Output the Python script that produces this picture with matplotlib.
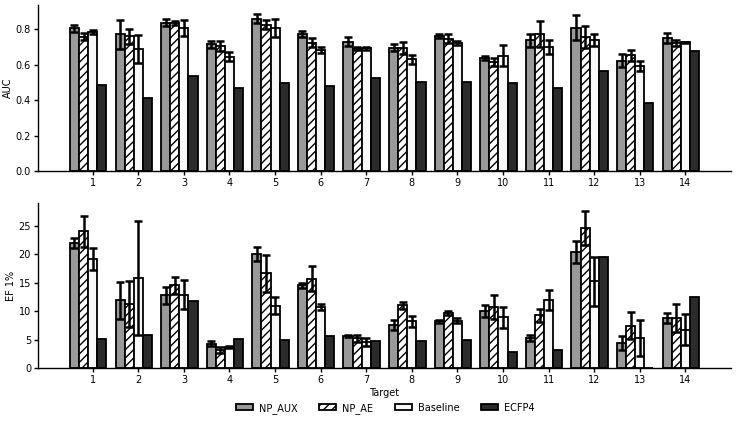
import numpy as np
import matplotlib
matplotlib.use("Agg")
import matplotlib.pyplot as plt

targets = list(range(1, 15))
series = ["NP_AUX", "NP_AE", "Baseline", "ECFP4"]

auc_np_aux = [0.804, 0.770, 0.836, 0.715, 0.860, 0.772, 0.730, 0.695, 0.762, 0.638, 0.738, 0.809, 0.623, 0.751]
auc_np_aux_err = [0.022, 0.083, 0.020, 0.020, 0.026, 0.018, 0.025, 0.020, 0.012, 0.012, 0.037, 0.068, 0.035, 0.028]
auc_np_ae = [0.757, 0.760, 0.836, 0.704, 0.826, 0.723, 0.690, 0.695, 0.747, 0.616, 0.772, 0.757, 0.653, 0.723]
auc_np_ae_err = [0.020, 0.042, 0.010, 0.030, 0.028, 0.026, 0.010, 0.035, 0.023, 0.024, 0.073, 0.061, 0.032, 0.016]
auc_base = [0.785, 0.689, 0.806, 0.644, 0.806, 0.682, 0.691, 0.629, 0.723, 0.650, 0.700, 0.738, 0.592, 0.725]
auc_base_err = [0.012, 0.080, 0.043, 0.025, 0.052, 0.018, 0.010, 0.028, 0.012, 0.059, 0.040, 0.035, 0.028, 0.004]
auc_ecfp4 = [0.484, 0.413, 0.533, 0.469, 0.498, 0.481, 0.522, 0.500, 0.501, 0.498, 0.469, 0.563, 0.381, 0.678]

ef_np_aux = [22.0, 11.9, 12.8, 4.28, 20.13, 14.55, 5.58, 7.63, 8.2, 9.98, 5.28, 20.42, 4.4, 8.8]
ef_np_aux_err = [0.9, 3.3, 1.5, 0.45, 1.26, 0.4, 0.2, 0.9, 0.3, 1.05, 0.45, 2.0, 1.17, 0.88]
ef_np_ae = [24.06, 11.3, 14.55, 3.23, 16.67, 15.73, 5.22, 11.03, 9.68, 10.74, 9.27, 24.65, 7.45, 8.8]
ef_np_ae_err = [2.7, 4.0, 1.5, 0.5, 3.2, 2.2, 0.6, 0.6, 0.35, 2.05, 1.17, 3.05, 2.4, 2.46]
ef_base = [19.19, 15.9, 12.9, 3.7, 10.97, 10.74, 4.5, 8.2, 8.33, 8.92, 11.9, 15.26, 5.28, 6.75]
ef_base_err = [1.9, 10.0, 2.55, 0.2, 1.47, 0.5, 0.7, 1.0, 0.4, 1.9, 1.76, 4.35, 3.17, 2.7]
ef_ecfp4 = [5.16, 5.75, 11.74, 5.05, 4.93, 5.58, 4.81, 4.75, 4.99, 2.88, 3.17, 19.54, 0.0, 12.5]

plt.rcParams['font.family'] = ['DejaVu Sans']
plt.rcParams['font.size'] = 7
plt.rcParams['hatch.linewidth'] = 1.0

fig = plt.figure(figsize=(7.38, 4.23), dpi=100)
ax1 = fig.add_axes([0.0515, 0.5957, 0.939, 0.392])
ax2 = fig.add_axes([0.0515, 0.130, 0.939, 0.390])

w = 0.2
x = np.array(targets, dtype=float)
offsets = [-2 * w, -w, 0, w]
faces = ["#999999", "white", "#f8f8f8", "#2b2b2b"]
hatches = [None, "////", None, None]

def draw(ax, vals, errs, ylabel, ylim, yticks):
    handles = []
    for i in range(4):
        b = ax.bar(x + offsets[i], vals[i], width=w, yerr=errs[i], color=faces[i],
                   edgecolor="black", linewidth=1.3, hatch=hatches[i], label=series[i],
                   error_kw=dict(ecolor="black", elinewidth=1.8, capsize=3, capthick=1.8))
        handles.append(b)
    ax.set_xticks(x)
    ax.set_xticklabels([str(t) for t in targets])
    ax.set_xlim(-0.2, 15.0)
    ax.set_ylim(*ylim)
    ax.set_yticks(yticks)
    ax.set_ylabel(ylabel, labelpad=2)
    for s in ["top", "right"]:
        ax.spines[s].set_visible(False)
    ax.spines["left"].set_linewidth(1.0)
    ax.spines["bottom"].set_linewidth(1.0)
    ax.tick_params(width=1.0, length=3, pad=2)
    return handles

draw(ax1, [auc_np_aux, auc_np_ae, auc_base, auc_ecfp4],
     [auc_np_aux_err, auc_np_ae_err, auc_base_err, None], "AUC", (0, 0.935),
     [0.0, 0.2, 0.4, 0.6, 0.8])
handles = draw(ax2, [ef_np_aux, ef_np_ae, ef_base, ef_ecfp4],
               [ef_np_aux_err, ef_np_ae_err, ef_base_err, None], "EF 1%", (0, 29.05),
               [0, 5, 10, 15, 20, 25])
ax2.set_xlabel("Target", labelpad=2)

fig.legend(handles, series, loc="center", bbox_to_anchor=(0.522, 0.035), ncol=4,
           frameon=False, handlelength=1.8, handleheight=0.55, columnspacing=2.2,
           handletextpad=0.6)

fig.savefig("out.png", dpi=100)
